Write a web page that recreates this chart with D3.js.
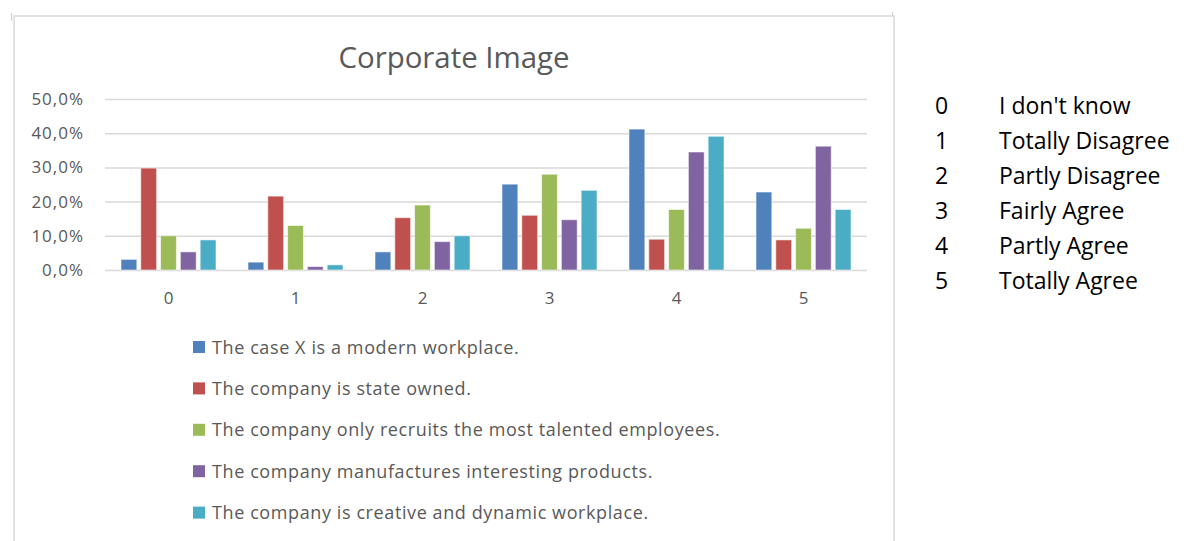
<!DOCTYPE html>
<html>
<head>
<meta charset="utf-8">
<script src="https://cdn.jsdelivr.net/npm/d3@7"></script>
<style>
  html, body { margin: 0; padding: 0; background: #fff; }
  svg { display: block; }
  text { font-family: "Open Sans", "Noto Sans", sans-serif; }
</style>
</head>
<body>
<svg id="chart" width="1186" height="541"></svg>
<script>
// Response categories on the x axis
const categories = ["0", "1", "2", "3", "4", "5"];

// Statements (series) and their share of answers per category
const seriesNames = [
  "The case X is a modern workplace.",
  "The company is state owned.",
  "The company only recruits the most talented employees.",
  "The company manufactures interesting products.",
  "The company is creative and dynamic workplace."
];
const modernWorkplace   = [0.031, 0.023, 0.053, 0.251, 0.412, 0.228];
const stateOwned        = [0.298, 0.216, 0.153, 0.160, 0.090, 0.088];
const talentedEmployees = [0.100, 0.130, 0.190, 0.280, 0.177, 0.122];
const interestingProducts = [0.053, 0.010, 0.083, 0.147, 0.345, 0.362];
const creativeDynamic   = [0.088, 0.015, 0.100, 0.233, 0.391, 0.177];
const seriesValues = [modernWorkplace, stateOwned, talentedEmployees, interestingProducts, creativeDynamic];
const seriesColors = ["#4F81BD", "#C0504D", "#9BBB59", "#8064A2", "#4BACC6"];

// Y axis ticks
const yTicks = [0, 0.1, 0.2, 0.3, 0.4, 0.5];

// Scale key shown beside the chart
const keyCodes  = ["0", "1", "2", "3", "4", "5"];
const keyLabels = ["I don't know", "Totally Disagree", "Partly Disagree", "Fairly Agree", "Partly Agree", "Totally Agree"];

const svg = d3.select("#chart");
const fmt = v => d3.format(".1f")(v * 100).replace(".", ",") + "%";

// Chart frame
const frame = { left: 14, top: 16, right: 894 };
svg.append("rect")
  .attr("x", frame.left).attr("y", frame.top)
  .attr("width", frame.right - frame.left).attr("height", 560)
  .attr("fill", "#fff").attr("stroke", "#d9d9d9").attr("stroke-width", 1.5);
// small handles at the frame corners
svg.append("line").attr("x1", 11.5).attr("x2", 11.5).attr("y1", 13).attr("y2", 21)
  .attr("stroke", "#d0d0d0").attr("stroke-width", 1.2);
svg.append("line").attr("x1", 892.5).attr("x2", 892.5).attr("y1", 12).attr("y2", 16)
  .attr("stroke", "#d0d0d0").attr("stroke-width", 1.2);

// Title
svg.append("text")
  .attr("x", (frame.left + frame.right) / 2).attr("y", 68)
  .attr("text-anchor", "middle")
  .attr("font-size", 29.4).attr("fill", "#595959")
  .text("Corporate Image");

// Scales
const plot = { left: 105, right: 867, top: 99, bottom: 270 };
const y = d3.scaleLinear().domain([0, 0.5]).range([plot.bottom, plot.top]);
const x0 = d3.scaleBand().domain(categories).range([plot.left, plot.right]).padding(0);
const x1 = d3.scaleBand().domain(d3.range(seriesNames.length))
  .range([16, 111]).paddingInner(0.2).paddingOuter(0);

// Gridlines
const yAxis = d3.axisLeft(y).tickValues(yTicks).tickFormat(fmt)
  .tickSize(-(plot.right - plot.left)).tickPadding(21);
const gy = svg.append("g").attr("transform", `translate(${plot.left},0)`).call(yAxis);
gy.select(".domain").remove();
gy.selectAll(".tick line").attr("stroke", "#d9d9d9").attr("stroke-width", 1.5);
gy.selectAll(".tick text")
  .attr("font-size", 17).attr("fill", "#595959")
  .attr("letter-spacing", 1).attr("font-family", "'Open Sans', sans-serif");

// X axis labels
const xAxis = d3.axisBottom(x0).tickSize(0).tickPadding(22);
const gx = svg.append("g").attr("transform", `translate(0,${plot.bottom})`).call(xAxis);
gx.select(".domain").remove();
gx.selectAll(".tick text")
  .attr("font-size", 17).attr("fill", "#595959")
  .attr("font-family", "'Open Sans', sans-serif");

// Bars
const groups = svg.append("g").selectAll("g")
  .data(categories)
  .join("g")
  .attr("transform", d => `translate(${x0(d)},0)`);

groups.selectAll("rect")
  .data((c, ci) => seriesValues.map((vals, si) => ({ si, v: vals[ci] })))
  .join("rect")
  .attr("x", d => x1(d.si))
  .attr("width", x1.bandwidth())
  .attr("y", d => y(d.v))
  .attr("height", d => y(0) - y(d.v))
  .attr("fill", d => seriesColors[d.si])
  .attr("stroke", "#ffffff")
  .attr("stroke-opacity", 0.55)
  .attr("stroke-width", 1);

// Legend
const legend = svg.append("g").selectAll("g")
  .data(seriesNames)
  .join("g")
  .attr("transform", (d, i) => `translate(193,${347 + i * 41.4})`);
legend.append("rect")
  .attr("x", 0).attr("y", -6).attr("width", 12).attr("height", 12)
  .attr("fill", (d, i) => seriesColors[i]);
legend.append("text")
  .attr("x", 19).attr("y", 6.5)
  .attr("font-size", 18).attr("letter-spacing", 0.6).attr("fill", "#595959")
  .text(d => d);

// Scale key
const key = svg.append("g").selectAll("g")
  .data(keyCodes)
  .join("g")
  .attr("transform", (d, i) => `translate(0,${114 + i * 35})`);
key.append("text")
  .attr("x", 935).attr("y", 0)
  .attr("font-size", 23).attr("fill", "#000")
  .text(d => d);
key.append("text")
  .attr("x", 999).attr("y", 0)
  .attr("font-size", 23).attr("fill", "#000")
  .text((d, i) => keyLabels[i]);
</script>
</body>
</html>
